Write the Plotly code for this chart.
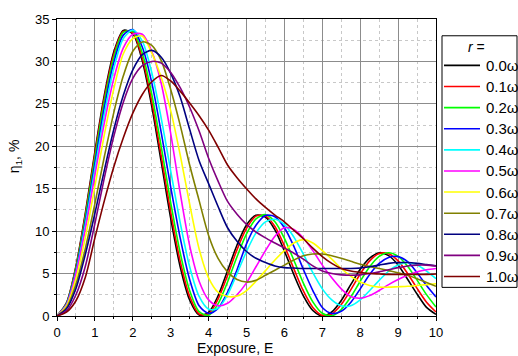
import plotly.graph_objects as go

# Exposure grid (E) shared by every curve
exposure = [0, 0.25, 0.5, 0.75, 1, 1.25, 1.5, 1.75, 2, 2.25, 2.5, 2.75, 3, 3.25,
            3.5, 3.75, 4, 4.25, 4.5, 4.75, 5, 5.25, 5.5, 5.75, 6, 6.25, 6.5, 6.75,
            7, 7.25, 7.5, 7.75, 8, 8.25, 8.5, 8.75, 9, 9.25, 9.5, 9.75, 10]

# Diffraction efficiency eta_1 (%) for each value of r
eta_r00 = [0, 1.54, 5.87, 12.19, 19.37, 26.05, 31.13, 33.66, 33.26, 30.07, 24.71, 18.15,
           11.50, 5.81, 1.89, 0.11, 0.44, 2.37, 5.34, 8.36, 10.73, 11.87, 11.66, 10.16,
           7.66, 4.86, 2.37, 0.65, 0.00, 0.47, 1.83, 3.69, 5.50, 6.81, 7.46, 7.12, 6.02,
           4.33, 2.60, 1.02, 0.19]
eta_r01 = [0, 1.51, 5.76, 11.97, 19.07, 25.73, 30.86, 33.52, 33.36, 30.42, 25.29, 18.86,
           12.24, 6.45, 2.31, 0.24, 0.26, 2.00, 4.77, 7.82, 10.32, 11.77, 11.80, 10.55,
           8.27, 5.56, 2.95, 1.01, 0.07, 0.23, 1.35, 3.08, 4.95, 6.49, 7.36, 7.33, 6.49,
           5.01, 3.25, 1.62, 0.47]
eta_r02 = [0, 1.47, 5.60, 11.67, 18.64, 25.29, 30.47, 33.42, 33.56, 30.98, 26.13, 19.95,
           13.37, 7.45, 3.00, 0.51, 0.08, 1.43, 4.00, 6.98, 9.68, 11.45, 11.94, 11.11,
           9.15, 6.57, 3.88, 1.67, 0.32, 0.03, 0.76, 2.24, 4.09, 5.81, 7.03, 7.45, 7.03,
           5.86, 4.23, 2.52, 1.06]
eta_r03 = [0, 1.40, 5.35, 11.20, 17.95, 24.60, 29.90, 33.10, 33.75, 31.70, 27.50, 21.60,
           15.20, 9.20, 4.30, 1.20, 0.30, 0.90, 2.80, 5.45, 8.50, 10.70, 11.85, 11.70,
           10.40, 8.20, 5.50, 3.00, 1.00, 0.30, 0.55, 1.60, 3.20, 4.90, 6.20, 6.90, 7.00,
           6.40, 5.10, 3.60, 2.25]
eta_r04 = [0, 1.33, 5.10, 10.80, 17.30, 23.80, 29.20, 32.70, 33.70, 32.40, 28.70, 23.30,
           17.10, 11.00, 5.80, 2.30, 0.80, 0.90, 2.50, 5.00, 7.60, 9.80, 11.10, 11.40,
           10.80, 9.30, 7.30, 5.10, 3.20, 1.90, 1.20, 1.20, 1.90, 3.00, 4.20, 5.30, 6.00,
           6.30, 6.00, 5.30, 4.40]
eta_r05 = [0, 1.28, 5.00, 10.30, 16.60, 22.80, 28.00, 31.60, 33.20, 33.20, 31.20, 27.40,
           21.50, 14.50, 8.30, 4.10, 1.90, 1.20, 1.50, 2.50, 3.90, 5.80, 7.70, 9.40,
           10.40, 10.20, 9.20, 7.70, 6.00, 4.50, 3.20, 2.30, 2.10, 2.40, 3.00, 3.70, 4.30,
           4.80, 5.20, 5.45, 5.60]
eta_r06 = [0, 1.15, 4.40, 9.30, 15.30, 21.40, 26.80, 30.90, 32.70, 33.00, 31.00, 28.10,
           24.20, 19.00, 13.20, 7.90, 4.50, 2.80, 2.30, 2.35, 3.00, 4.10, 5.35, 6.60,
           7.70, 8.60, 9.00, 8.60, 7.70, 6.70, 5.60, 4.70, 4.00, 3.60, 3.40, 3.40, 3.45,
           3.50, 3.60, 3.70, 3.80]
eta_r07 = [0, 0.97, 3.75, 8.00, 13.25, 18.80, 24.00, 28.30, 31.20, 32.30, 31.90, 30.10,
           26.70, 22.50, 17.80, 13.60, 9.50, 6.80, 5.20, 4.30, 4.00, 4.20, 4.80, 5.40,
           6.00, 6.60, 7.10, 7.30, 7.30, 7.10, 6.80, 6.45, 6.10, 5.85, 5.60, 5.35, 5.10,
           4.80, 4.40, 3.95, 3.50]
eta_r08 = [0, 0.84, 3.25, 7.30, 12.10, 17.20, 22.00, 26.00, 29.00, 30.80, 31.30, 30.50,
           28.60, 25.80, 22.00, 18.30, 15.60, 12.90, 10.40, 8.80, 7.60, 6.80, 6.30, 5.90,
           5.70, 5.65, 5.60, 5.60, 5.60, 5.60, 5.60, 5.60, 5.65, 5.80, 6.00, 6.20, 6.30,
           6.30, 6.20, 6.05, 5.90]
eta_r09 = [0, 0.60, 2.50, 5.90, 10.90, 16.30, 21.20, 25.20, 28.00, 29.50, 30.00, 29.80,
           28.70, 26.90, 24.60, 21.80, 18.60, 15.90, 13.50, 12.00, 10.80, 9.90, 9.20, 8.60,
           8.00, 7.40, 6.70, 5.90, 5.30, 5.00, 4.85, 4.80, 4.85, 5.00, 5.20, 5.45, 5.70,
           5.90, 6.00, 6.00, 5.90]
eta_r10 = [0, 0.45, 1.80, 4.60, 9.20, 13.60, 17.60, 21.00, 23.90, 26.10, 27.60, 28.35,
           27.70, 26.50, 25.10, 23.60, 21.90, 19.90, 17.80, 16.30, 15.00, 13.80, 12.80, 11.90,
           11.10, 10.10, 9.10, 8.00, 7.00, 6.20, 5.60, 5.30, 5.15, 5.00, 4.95, 4.90, 4.90,
           4.90, 4.90, 4.90, 4.95]

r_labels = ["0.0ω", "0.1ω", "0.2ω", "0.3ω", "0.4ω", "0.5ω",
            "0.6ω", "0.7ω", "0.8ω", "0.9ω", "1.0ω"]
series = [eta_r00, eta_r01, eta_r02, eta_r03, eta_r04, eta_r05,
          eta_r06, eta_r07, eta_r08, eta_r09, eta_r10]
colors = ["#000000", "#FF0000", "#00FF00", "#0000FF", "#00FFFF", "#FF00FF",
          "#FFFF00", "#808000", "#000080", "#800080", "#800000"]

FONT = "Arial, 'Liberation Sans', sans-serif"

# Figure geometry (pixels)
W, H = 518, 356
PL, PR, PT, PB = 57, 436, 15, 316          # plot frame edges


def px_x(px):
    """Horizontal pixel position -> paper coordinate."""
    return (px - PL) / (PR - PL)


def px_y(py):
    """Vertical pixel position (from top) -> paper coordinate."""
    return (PB - py) / (PB - PT)


fig = go.Figure()
for label, eta, col in zip(r_labels, series, colors):
    fig.add_trace(go.Scatter(
        x=exposure, y=eta, name=label, mode="lines", showlegend=False,
        line=dict(color=col, width=1.6, shape="spline", smoothing=0.8),
    ))

axis_common = dict(
    showline=True, linecolor="black", linewidth=1, mirror=True,
    showgrid=True, gridcolor="#8c8c8c", gridwidth=1,
    ticks="outside", ticklen=4, tickwidth=1, tickcolor="black",
    tickfont=dict(family=FONT, size=13, color="black"),
    zeroline=False,
)

fig.update_xaxes(
    range=[0, 10], tick0=0, dtick=1,
    minor=dict(dtick=0.5, ticks="outside", ticklen=2, tickcolor="black",
               showgrid=True, gridcolor="#c8c8c8", griddash="dot", gridwidth=1),
    **axis_common,
)
fig.update_yaxes(
    range=[0, 35], tick0=0, dtick=5,
    minor=dict(dtick=2.5, ticks="outside", ticklen=2, tickcolor="black",
               showgrid=True, gridcolor="#c8c8c8", griddash="dot", gridwidth=1),
    **axis_common,
)

# Legend panel on the right: frame, title, line samples and labels
shapes = [dict(type="rect", xref="paper", yref="paper",
               x0=px_x(442), x1=px_x(517), y0=px_y(287), y1=px_y(32),
               line=dict(color="black", width=1), fillcolor="white", layer="above")]
annotations = [
    dict(text="<i>r</i> =", xref="paper", yref="paper",
         x=px_x(476), y=px_y(43), xanchor="center", yanchor="middle",
         showarrow=False, font=dict(family=FONT, size=14, color="black")),
]
for i, (label, col) in enumerate(zip(r_labels, colors)):
    yy = px_y(62 + 21.4 * i)
    shapes.append(dict(type="line", xref="paper", yref="paper",
                       x0=px_x(444), x1=px_x(480), y0=yy, y1=yy,
                       line=dict(color=col, width=1.6), layer="above"))
    annotations.append(dict(text=label, xref="paper", yref="paper",
                            x=px_x(484), y=yy, xanchor="left", yanchor="middle",
                            showarrow=False,
                            font=dict(family=FONT, size=15, color="black")))

# Axis titles
annotations += [
    dict(text="Exposure, E", xref="paper", yref="paper",
         x=px_x(235), y=px_y(348), xanchor="center", yanchor="middle",
         showarrow=False, font=dict(family=FONT, size=14, color="black")),
    dict(text="η<sub>1</sub>, %", xref="paper", yref="paper",
         x=px_x(15), y=px_y(155), xanchor="center", yanchor="middle",
         textangle=-90, showarrow=False,
         font=dict(family=FONT, size=14, color="black")),
]

fig.update_layout(
    width=W, height=H,
    margin=dict(l=PL, r=W - PR, t=PT, b=H - PB),
    paper_bgcolor="white", plot_bgcolor="white",
    font=dict(family=FONT, size=13, color="black"),
    showlegend=False,
    shapes=shapes,
    annotations=annotations,
)

fig.write_html("out.html")
